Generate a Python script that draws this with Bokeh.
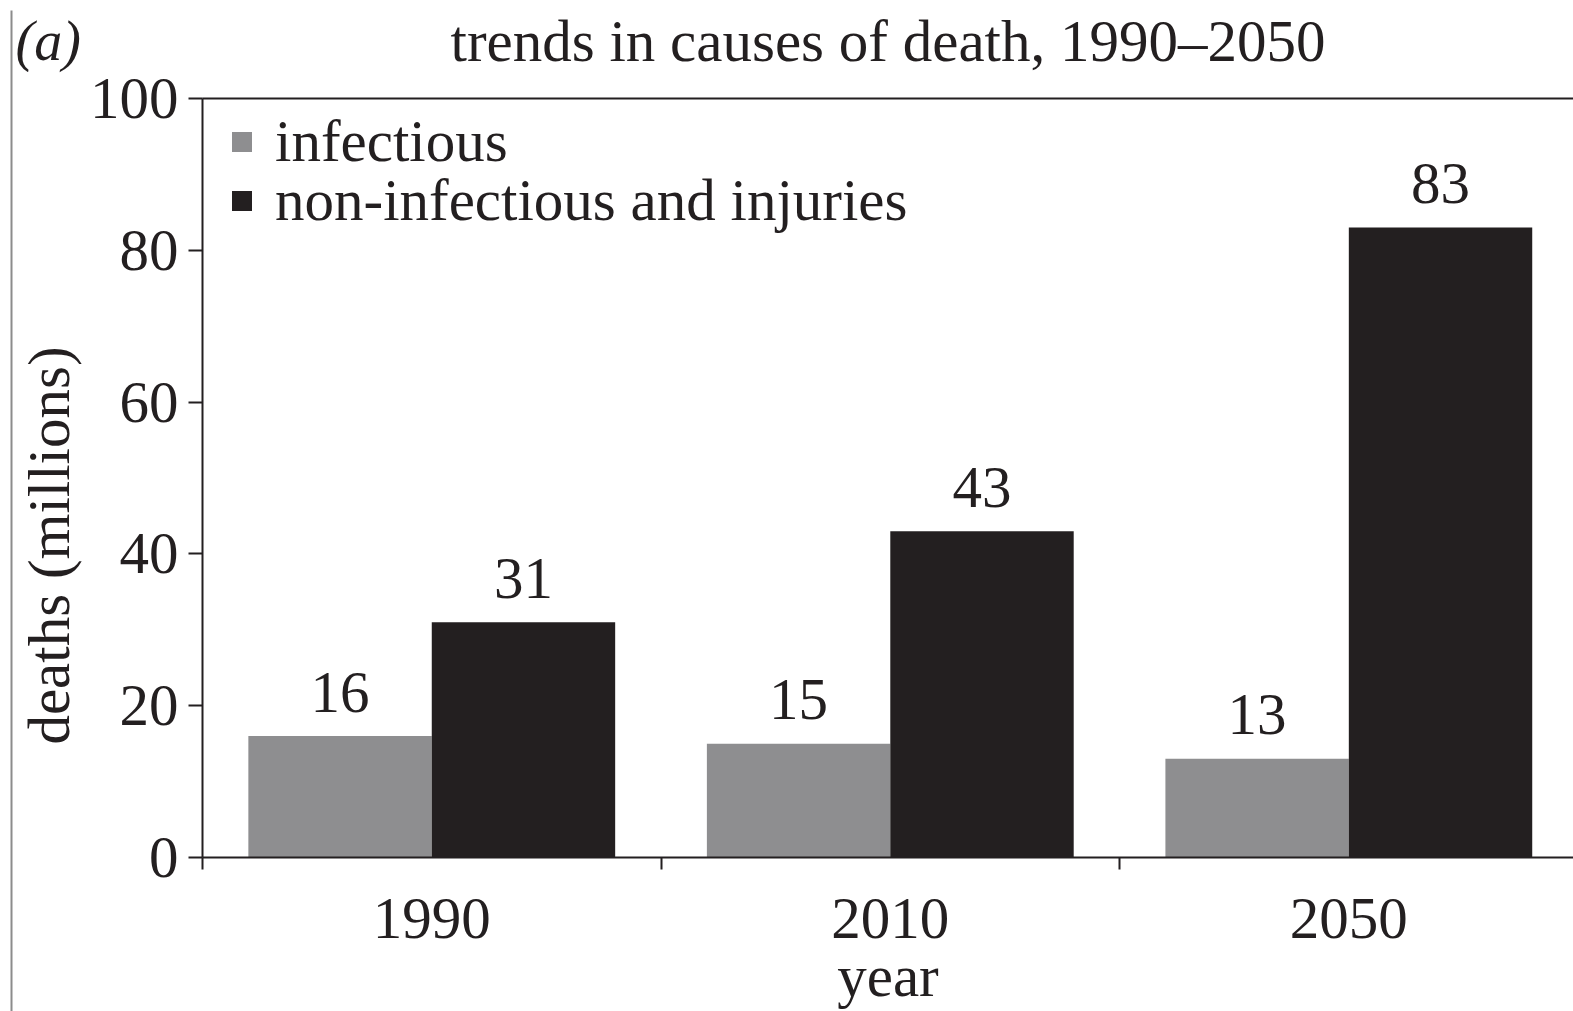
import math
from bokeh.plotting import figure
from bokeh.layouts import row
from bokeh.models import (ColumnDataSource, Range1d, LinearAxis, FixedTicker,
                          Legend, LegendItem)
from bokeh.core.properties import value
from bokeh.embed import file_html
from bokeh.resources import INLINE

# deaths by cause (millions)
years = ["1990", "2010", "2050"]
infectious = [16, 15, 13]
non_infectious = [31, 43, 83]
y_ticks = [0, 20, 40, 60, 80, 100]
title_text = "trends in causes of death, 1990\u20132050"
y_title = "deaths (millions)"
panel_tag = "(a)"

FONT = "Liberation Serif"
FS = "59px"
INK = "#231f20"
GREY = "#8e8e90"
RULE = "#8c8c8c"

W, H = 1573, 1011
SIDE_W = 84          # left column: panel letter, y title and the left rule
LEFT = 202           # left edge of the plotting area on the page
X_END = 2.99


def bare(fig):
    fig.outline_line_color = None
    fig.grid.visible = False
    fig.background_fill_color = "white"
    fig.border_fill_color = "white"
    return fig


# ---- left column ----
side = bare(figure(width=SIDE_W, height=H, output_backend="svg", toolbar_location=None,
                   x_range=Range1d(0, SIDE_W), y_range=Range1d(0, H),
                   x_axis_type=None, y_axis_type=None, min_border=0, frame_align=False))
side.segment(x0=[11], y0=[0], x1=[11], y1=[H - 10], line_color=RULE, line_width=2)
side.text(x=[15], y=[H - 40], text=[panel_tag], text_font=value(FONT),
          text_font_size="56px", text_font_style="italic", text_color=INK,
          text_align="left", text_baseline="middle")
side.text(x=[48], y=[H - 545], text=[y_title], angle=math.pi / 2, text_font=value(FONT),
          text_font_size=FS, text_color=INK, text_align="center", text_baseline="middle")

# ---- bar chart ----
centers = [i + 0.5 for i in range(len(years))]
src_inf = ColumnDataSource(dict(x=[c - 0.2 for c in centers], top=infectious,
                                lab=[str(v) for v in infectious]))
src_non = ColumnDataSource(dict(x=[c + 0.2 for c in centers], top=non_infectious,
                                lab=[str(v) for v in non_infectious]))

p = bare(figure(width=W - SIDE_W, height=H, output_backend="svg", toolbar_location=None,
                x_range=Range1d(0, X_END), y_range=Range1d(0, 100),
                x_axis_type=None, y_axis_type=None, frame_align=False,
                min_border_left=LEFT - SIDE_W, min_border_right=0,
                min_border_top=98, min_border_bottom=153))

# y axis
yax = LinearAxis(ticker=FixedTicker(ticks=y_ticks))
yax.axis_line_width = 2
yax.axis_line_color = INK
yax.major_tick_in = 0
yax.major_tick_out = 14
yax.major_tick_line_width = 2
yax.major_tick_line_color = INK
yax.minor_tick_line_color = None
yax.major_label_text_font = FONT
yax.major_label_text_font_size = FS
yax.major_label_text_color = INK
yax.major_label_standoff = 10
p.add_layout(yax, "left")

# x axis: labels at category centres, ticks at category boundaries
xax = LinearAxis(ticker=FixedTicker(ticks=centers, minor_ticks=[0, 1, 2, 3]),
                 major_label_overrides={c: y for c, y in zip(centers, years)})
xax.axis_line_width = 2
xax.axis_line_color = INK
xax.major_tick_line_color = None
xax.minor_tick_in = 0
xax.minor_tick_out = 12
xax.minor_tick_line_width = 2
xax.minor_tick_line_color = INK
xax.major_label_text_font = FONT
xax.major_label_text_font_size = FS
xax.major_label_text_color = INK
xax.major_label_standoff = 29
xax.axis_label = "year"
xax.axis_label_text_font = FONT
xax.axis_label_text_font_size = FS
xax.axis_label_text_font_style = "normal"
xax.axis_label_text_color = INK
xax.axis_label_standoff = 2
p.add_layout(xax, "below")

# top edge of the plotting area, carrying the chart title
top = LinearAxis(ticker=FixedTicker(ticks=[]))
top.axis_line_width = 2
top.axis_line_color = INK
top.major_tick_line_color = None
top.minor_tick_line_color = None
top.major_label_text_font_size = "0px"
top.axis_label = title_text
top.axis_label_text_font = FONT
top.axis_label_text_font_size = FS
top.axis_label_text_font_style = "normal"
top.axis_label_text_color = INK
top.axis_label_standoff = 25
p.add_layout(top, "above")

r_inf = p.vbar(x="x", top="top", width=0.4, source=src_inf, fill_color=GREY, line_color=None)
r_non = p.vbar(x="x", top="top", width=0.4, source=src_non, fill_color=INK, line_color=None)

# value labels above the bars
for src in (src_inf, src_non):
    p.text(x="x", y="top", text="lab", source=src, text_font=value(FONT),
           text_font_size=FS, text_color=INK, text_align="center",
           text_baseline="alphabetic", y_offset=-44)

# one legend row each, so the rows can sit close together
for label, rend, loc in (("infectious", r_inf, (27, 681)),
                         ("non-infectious and injuries", r_non, (27, 622))):
    lg = Legend(items=[LegendItem(label=label, renderers=[rend])], location=loc)
    lg.label_text_font = FONT
    lg.label_text_font_size = FS
    lg.label_text_color = INK
    lg.glyph_width = 25
    lg.glyph_height = 25
    lg.label_standoff = 21
    lg.padding = 0
    lg.margin = 0
    lg.border_line_color = None
    lg.background_fill_alpha = 0
    p.add_layout(lg)

layout = row(side, p, spacing=0)
open("out.html", "w").write(file_html(layout, INLINE))
